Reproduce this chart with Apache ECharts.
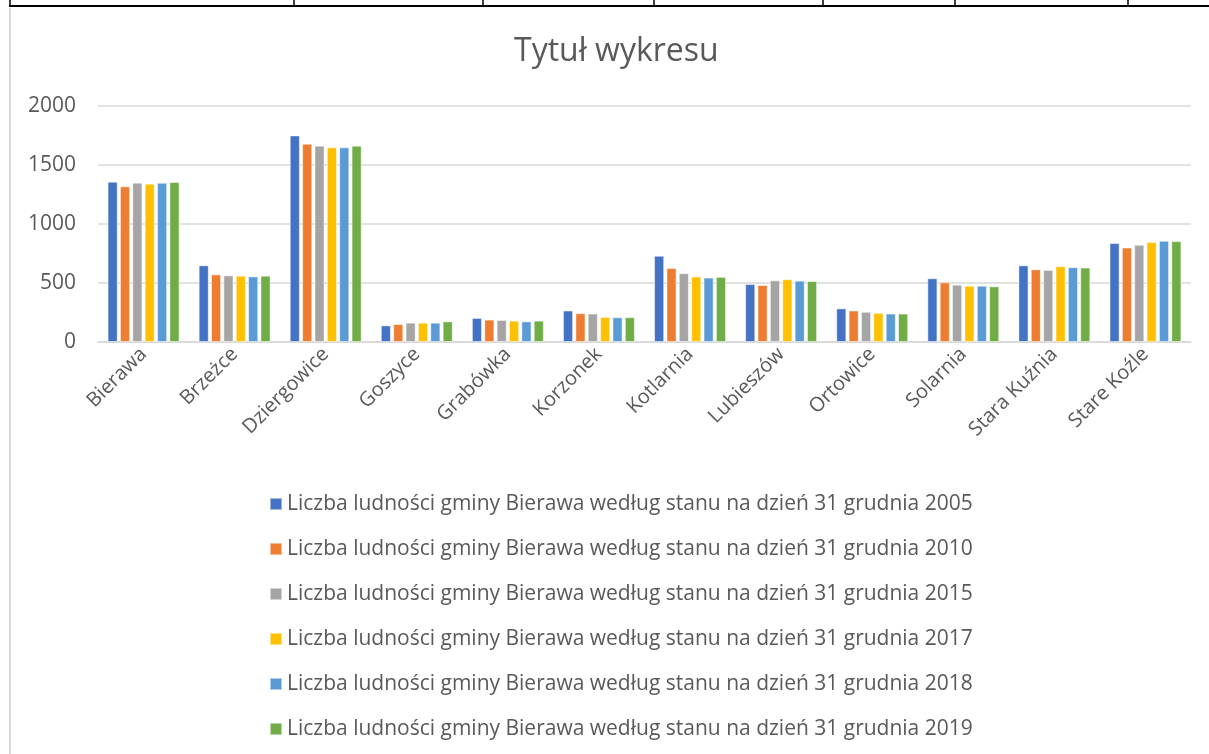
<!DOCTYPE html>
<html><head><meta charset="utf-8">
<script src="https://cdn.jsdelivr.net/npm/echarts@6/dist/echarts.min.js"></script>
<style>html,body{margin:0;padding:0;background:#fff}#c{width:1209px;height:754px}</style>
</head><body><div id="c"></div>
<script>
const categories = ['Bierawa','Brzeżce','Dziergowice','Goszyce','Grabówka','Korzonek','Kotlarnia','Lubieszów','Ortowice','Solarnia','Stara Kuźnia','Stare Koźle'];
const seriesNames = [
  'Liczba ludności gminy Bierawa według stanu na dzień 31 grudnia 2005',
  'Liczba ludności gminy Bierawa według stanu na dzień 31 grudnia 2010',
  'Liczba ludności gminy Bierawa według stanu na dzień 31 grudnia 2015',
  'Liczba ludności gminy Bierawa według stanu na dzień 31 grudnia 2017',
  'Liczba ludności gminy Bierawa według stanu na dzień 31 grudnia 2018',
  'Liczba ludności gminy Bierawa według stanu na dzień 31 grudnia 2019'
];
const y2005 = [1359, 650, 1751, 141, 204, 267, 731, 491, 285, 540, 650, 838];
const y2010 = [1319, 573, 1681, 152, 190, 244, 627, 483, 267, 506, 616, 801];
const y2015 = [1350, 565, 1664, 164, 187, 241, 583, 523, 256, 486, 611, 824];
const y2017 = [1342, 562, 1650, 164, 181, 213, 555, 532, 247, 477, 642, 847];
const y2018 = [1350, 556, 1650, 164, 175, 210, 546, 520, 241, 477, 634, 858];
const y2019 = [1356, 562, 1664, 175, 181, 210, 552, 517, 241, 472, 631, 855];
const yTicks = [0, 500, 1000, 1500, 2000];
const colors = ['#4472C4','#ED7D31','#A5A5A5','#FFC000','#5B9BD5','#70AD47'];
const allData = [y2005, y2010, y2015, y2017, y2018, y2019];

const font = '"Open Sans", "Noto Sans", sans-serif';
const chart = echarts.init(document.getElementById('c'));
chart.setOption({
  animation: false,
  color: colors,
  title: {
    text: 'Tytuł wykresu', left: 509, top: 31,
    textStyle: { fontFamily: font, fontSize: 32, fontWeight: 'normal', color: '#595959' }
  },
  legend: {
    orient: 'vertical', left: 264, top: 485,
    itemWidth: 12, itemHeight: 12, itemGap: 17,
    icon: 'rect',
    textStyle: { fontFamily: font, fontSize: 21, color: '#595959', lineHeight: 28 },
    data: seriesNames
  },
  grid: { left: 98, right: 18, top: 106, bottom: 412 },
  xAxis: {
    type: 'category', data: categories,
    axisLine: { lineStyle: { color: '#d9d9d9', width: 1.5 } },
    axisTick: { show: false },
    axisLabel: { rotate: 45, interval: 0, fontFamily: font, fontSize: 20, color: '#595959', margin: 9 }
  },
  yAxis: {
    type: 'value', min: yTicks[0], max: yTicks[yTicks.length - 1], interval: 500,
    axisLine: { show: false }, axisTick: { show: false },
    axisLabel: { fontFamily: font, fontSize: 21, color: '#595959', margin: 22, formatter: v => String(v) },
    splitLine: { lineStyle: { color: '#d9d9d9', width: 1.5 } }
  },
  series: seriesNames.map((n, i) => ({
    name: n, type: 'bar', data: allData[i],
    barGap: '22%', barCategoryGap: '21%',
    itemStyle: { color: colors[i], borderColor: 'rgba(255,255,255,0.5)', borderWidth: 1 }
  })),
  graphic: [
    { type: 'line', shape: { x1: 9, y1: 6, x2: 1209, y2: 6 }, style: { stroke: '#000', lineWidth: 2 } },
    { type: 'line', shape: { x1: 10, y1: 0, x2: 10, y2: 6 }, style: { stroke: '#000', lineWidth: 1.5 } },
    { type: 'line', shape: { x1: 294, y1: 0, x2: 294, y2: 6 }, style: { stroke: '#000', lineWidth: 1.5 } },
    { type: 'line', shape: { x1: 483, y1: 0, x2: 483, y2: 6 }, style: { stroke: '#000', lineWidth: 1.5 } },
    { type: 'line', shape: { x1: 654, y1: 0, x2: 654, y2: 6 }, style: { stroke: '#000', lineWidth: 1.5 } },
    { type: 'line', shape: { x1: 823, y1: 0, x2: 823, y2: 6 }, style: { stroke: '#000', lineWidth: 1.5 } },
    { type: 'line', shape: { x1: 955, y1: 0, x2: 955, y2: 6 }, style: { stroke: '#000', lineWidth: 1.5 } },
    { type: 'line', shape: { x1: 1128, y1: 0, x2: 1128, y2: 6 }, style: { stroke: '#000', lineWidth: 1.5 } },
    { type: 'line', shape: { x1: 10, y1: 8, x2: 10, y2: 754 }, style: { stroke: '#d9d9d9', lineWidth: 2 } }
  ]
});
</script></body></html>
